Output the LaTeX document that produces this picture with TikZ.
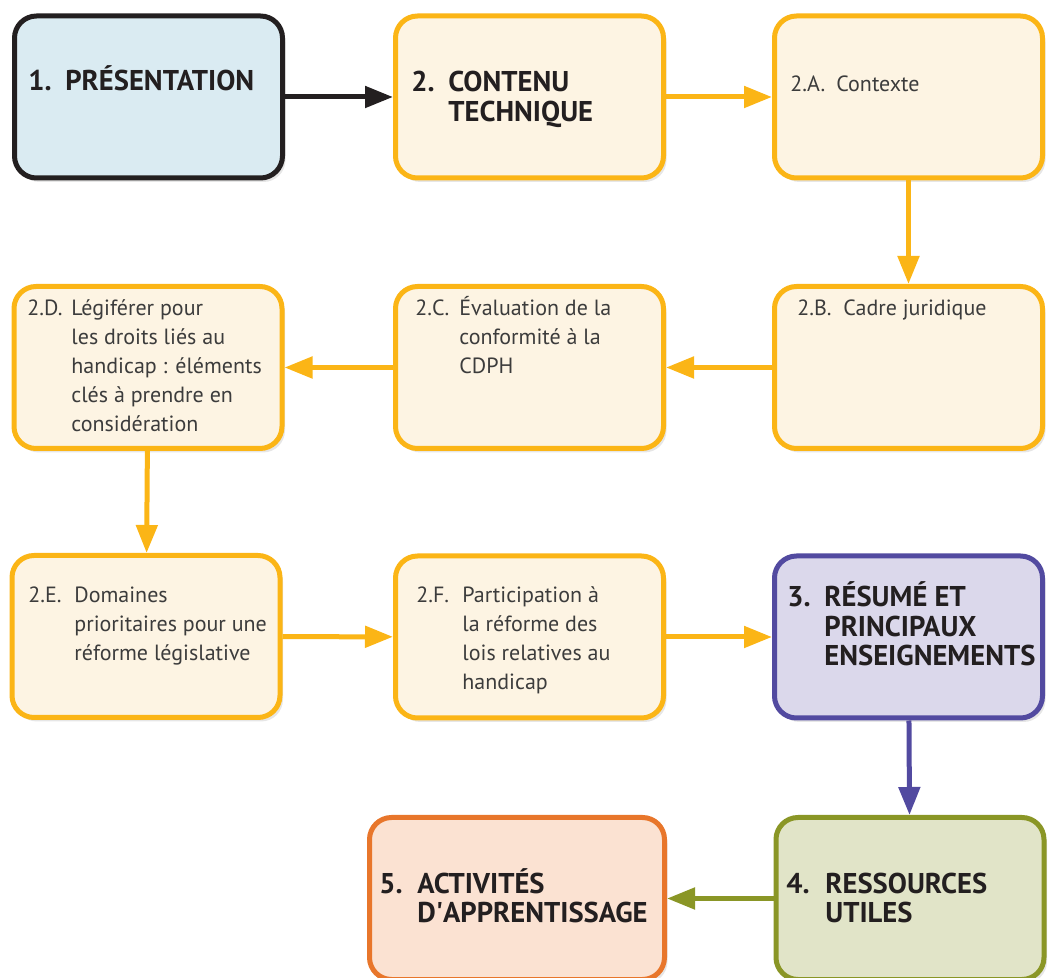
\documentclass[tikz,border=0pt]{standalone}
\usepackage{fontspec}
\setmainfont{PT Sans}
\usetikzlibrary{arrows.meta,positioning,shadows}
\definecolor{org}{HTML}{FBB516}
\definecolor{cream}{HTML}{FDF4E3}
\definecolor{ink}{HTML}{231F20}
\definecolor{sky}{HTML}{DAEBF2}
\definecolor{vio}{HTML}{524AA0}
\definecolor{lav}{HTML}{DBD8EB}
\definecolor{olv}{HTML}{8A9626}
\definecolor{sage}{HTML}{E1E4C8}
\definecolor{rust}{HTML}{E8762B}
\definecolor{peach}{HTML}{FBE2D2}
\definecolor{txtg}{HTML}{3C3C3C}
\newcommand{\numtxt}[3]{\begin{tabular}[t]{@{}p{#1}@{}l@{}}#2&\begin{tabular}[t]{@{}l@{}}#3\end{tabular}\end{tabular}}
\tikzset{
  box/.style={draw=org,fill=cream,line width=2.5pt,rounded corners=11pt,minimum width=134pt,minimum height=81pt,
    drop shadow={shadow xshift=1.5pt,shadow yshift=-2pt,opacity=0.2}},
  kbox/.style={box,draw=ink,fill=sky},
  pbox/.style={box,draw=vio,fill=lav},
  gbox/.style={box,draw=olv,fill=sage},
  rbox/.style={box,draw=rust,fill=peach,minimum width=147.5pt},
  txt/.style={anchor=base west,inner sep=0pt,text=txtg,font=\fontsize{11}{14.5}\selectfont},
  hd/.style={anchor=base west,inner sep=0pt,text=ink,font=\bfseries\fontsize{14.3}{14.5}\selectfont},
  ar/.style={-{Triangle[length=14pt,width=10.5pt]},line width=2.5pt,draw=org},
}
\begin{document}
\begin{tikzpicture}[x=0.5pt,y=-0.5pt]
\useasboundingbox (0,0) rectangle (1051,978);
% boxes
\node[kbox] (b1) at (148.5,97) {};
\node[box] (b2) at (529.5,97) {};
\node[box] (b2a) at (908.5,97) {};
\node[box] (b2d) at (148,367.5) {};
\node[box] (b2c) at (529.5,367.5) {};
\node[box] (b2b) at (908.5,367.5) {};
\node[box] (b2e) at (146,636.5) {};
\node[box] (b2f) at (529.5,637) {};
\node[pbox] (b3) at (908.5,637) {};
\node[rbox] (b5) at (517,898.5) {};
\node[gbox] (b4) at (910,898.5) {};
% texts
\node[hd] (t1) at (28,91) {\numtxt{18.5pt}{1.}{PRÉSENTATION}};
\node[hd] (t2) at (411,92) {\numtxt{18.5pt}{2.}{CONTENU\\TECHNIQUE}};
\node[txt] (t2a) at (790,92) {\numtxt{23pt}{2.A.}{Contexte}};
\node[txt] (t2b) at (797,316) {\numtxt{23pt}{2.B.}{Cadre juridique}};
\node[txt] (t2c) at (415,316) {\numtxt{22pt}{2.C.}{Évaluation de la\\conformité à la\\CDPH}};
\node[txt] (t2d) at (27,316) {\numtxt{22pt}{2.D.}{Légiférer pour\\les droits liés au\\handicap : éléments\\clés à prendre en\\considération}};
\node[txt] (t2e) at (28,603) {\numtxt{23pt}{2.E.}{Domaines\\prioritaires pour une\\réforme législative}};
\node[txt] (t2f) at (416,603) {\numtxt{23pt}{2.F.}{Participation à\\la réforme des\\lois relatives au\\handicap}};
\node[hd] (t3) at (787,607) {\numtxt{18.5pt}{3.}{RÉSUMÉ ET\\PRINCIPAUX\\ENSEIGNEMENTS}};
\node[hd] (t5) at (379,893) {\numtxt{19pt}{5.}{ACTIVITÉS\\D\textquotesingle APPRENTISSAGE}};
\node[hd] (t4) at (786,893) {\numtxt{19.5pt}{4.}{RESSOURCES\\UTILES}};
% arrows
\draw[ar,draw=ink] (b1) -- (b2);
\draw[ar] (b2) -- (b2a);
\draw[ar] (b2a) -- (b2b);
\draw[ar] (b2b) -- (b2c);
\draw[ar] (b2c) -- (b2d);
\draw[ar] (b2d) -- (b2e);
\draw[ar] (b2e) -- (b2f);
\draw[ar] (b2f) -- (b3);
\draw[ar,draw=vio] (b3) -- (b4);
\draw[ar,draw=olv] (b4) -- (b5);
\end{tikzpicture}
\end{document}
